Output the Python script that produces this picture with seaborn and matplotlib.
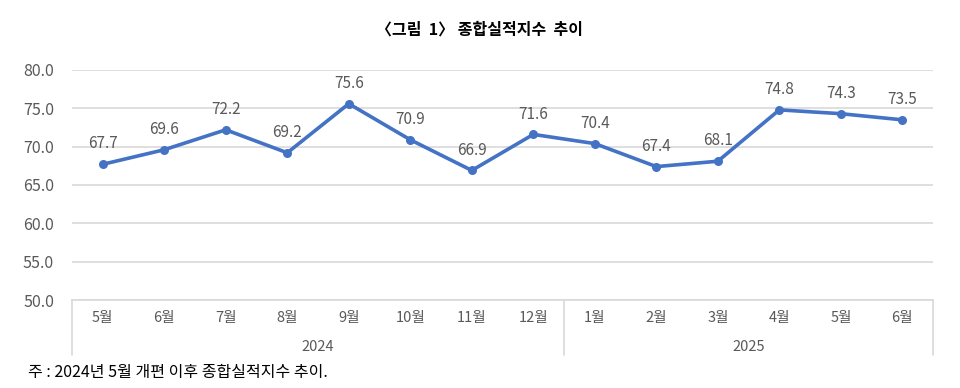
import matplotlib
matplotlib.use("Agg")
import matplotlib.pyplot as plt
import matplotlib.transforms as mtransforms
import pandas as pd
import seaborn as sns

months = ["5월", "6월", "7월", "8월", "9월", "10월", "11월", "12월",
          "1월", "2월", "3월", "4월", "5월", "6월"]
years = ["2024"] * 8 + ["2025"] * 6
index_values = [67.7, 69.6, 72.2, 69.2, 75.6, 70.9, 66.9, 71.6,
                70.4, 67.4, 68.1, 74.8, 74.3, 73.5]
y_ticks = [50, 55, 60, 65, 70, 75, 80]

df = pd.DataFrame({"month": months, "year": years, "value": index_values})
df["pos"] = range(len(df))

sns.set_theme(style="white")
plt.rcParams["font.family"] = ["Noto Sans CJK KR", "DejaVu Sans"]

text_gray = "#595959"
grid_gray = "#d9d9d9"
line_blue = "#4472C4"

fig = plt.figure(figsize=(9.6, 3.88), dpi=100)
ax = fig.add_axes([0.075, 0.2268, 0.897, 0.5928])

sns.lineplot(data=df, x="pos", y="value", ax=ax, color=line_blue,
             linewidth=2.6, marker="o", markersize=6.5, markeredgewidth=0)

for x, v in zip(df["pos"], df["value"]):
    ax.annotate(f"{v:.1f}", (x, v), xytext=(0, 8.5), textcoords="offset points",
                ha="center", va="bottom", fontsize=11, color=text_gray)

ax.set_xlim(-0.5, len(df) - 0.5)
ax.set_ylim(50, 80)
ax.set_yticks(y_ticks)
ax.set_yticklabels([f"{t:.1f}" for t in y_ticks])
ax.yaxis.grid(True, color=grid_gray, linewidth=1.2)
ax.set_xticks(df["pos"])
ax.set_xticklabels(df["month"])
ax.tick_params(axis="x", length=0, pad=8, labelsize=10.5, labelcolor=text_gray)
ax.tick_params(axis="y", length=0, pad=13, labelsize=11.5, labelcolor=text_gray)
ax.set_xlabel("")
ax.set_ylabel("")
for side in ["top", "right", "left"]:
    ax.spines[side].set_visible(False)
ax.spines["bottom"].set_color(grid_gray)
ax.spines["bottom"].set_linewidth(1.2)

# group separators and year labels under the month ticks
trans = mtransforms.blended_transform_factory(ax.transData, ax.transAxes)
group_edges = [-0.5]
for i in range(1, len(years)):
    if years[i] != years[i - 1]:
        group_edges.append(i - 0.5)
group_edges.append(len(years) - 0.5)
for xe in group_edges:
    ax.plot([xe, xe], [0, -0.24], transform=trans, color=grid_gray,
            linewidth=1.2, clip_on=False)
for yr in dict.fromkeys(years):
    sub = df[df["year"] == yr]
    xc = (sub["pos"].min() + sub["pos"].max()) / 2
    ax.text(xc, -0.205, yr, transform=trans, ha="center", va="center",
            fontsize=10.5, color=text_gray)

fig.text(0.5, 0.923, "〈그림  1〉 종합실적지수  추이", ha="center", va="center",
         fontsize=11.5, fontweight="bold", color="#000000")
fig.text(0.029, 0.04, "주 : 2024년 5월 개편 이후 종합실적지수 추이.", ha="left",
         va="center", fontsize=11.5, color="#000000")

fig.savefig("out.png", dpi=100)
